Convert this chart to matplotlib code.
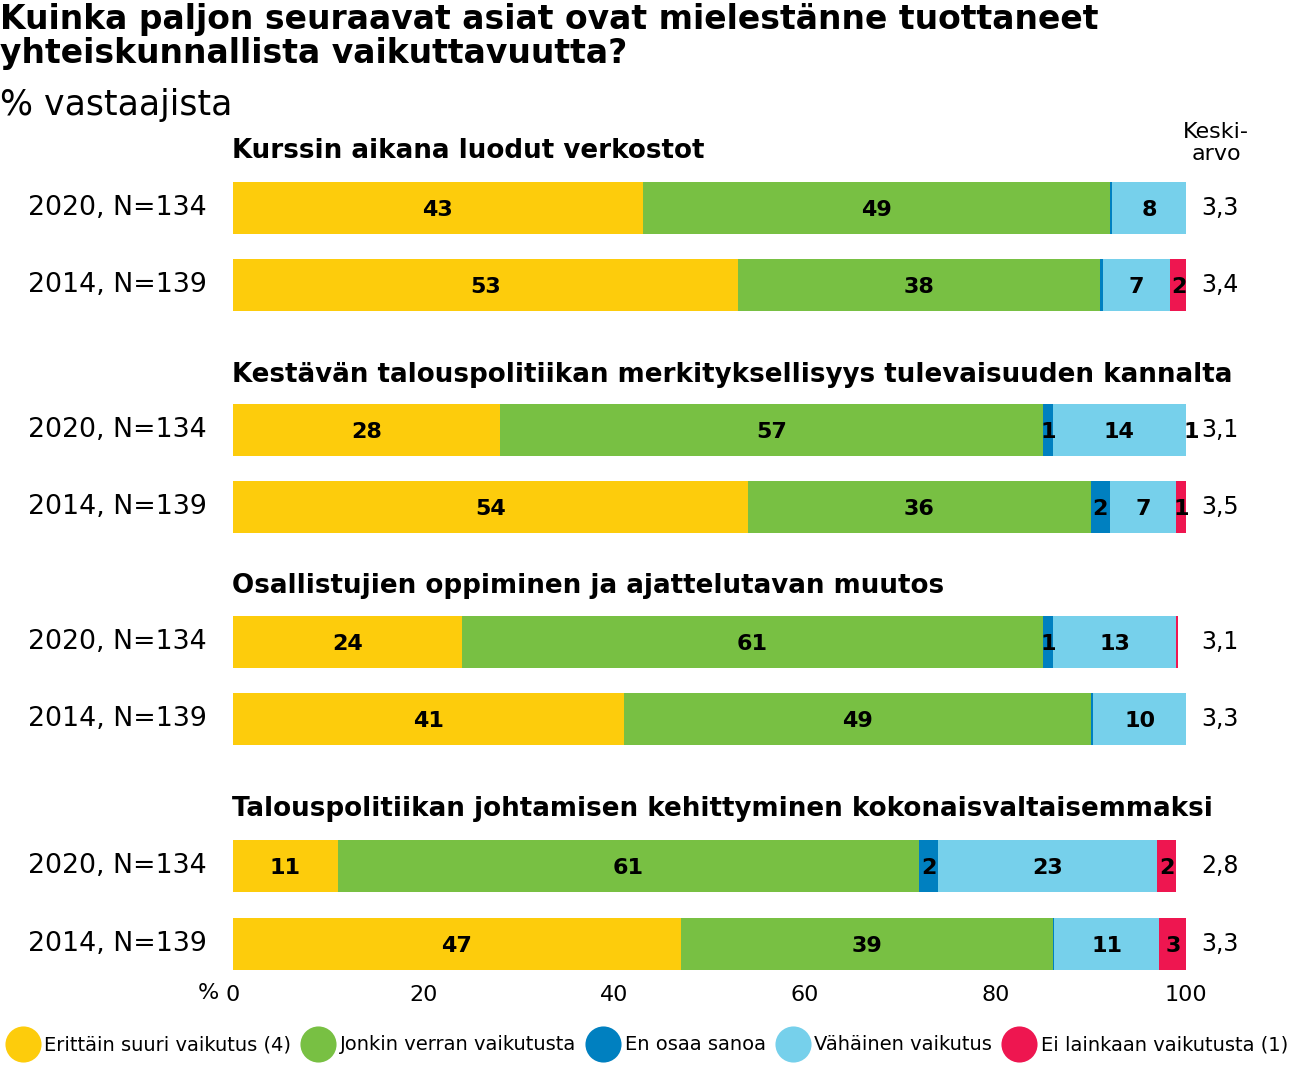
import matplotlib
matplotlib.use("Agg")
import matplotlib.pyplot as plt
from matplotlib.lines import Line2D

W, H = 1301, 1065

# --- data ---
groups = [
    "Kurssin aikana luodut verkostot",
    "Kestävän talouspolitiikan merkityksellisyys tulevaisuuden kannalta",
    "Osallistujien oppiminen ja ajattelutavan muutos",
    "Talouspolitiikan johtamisen kehittyminen kokonaisvaltaisemmaksi",
]
rows = ["2020, N=134", "2014, N=139"]
categories = [
    "Erittäin suuri vaikutus (4)",
    "Jonkin verran vaikutusta",
    "En osaa sanoa",
    "Vähäinen vaikutus",
    "Ei lainkaan vaikutusta (1)",
]
# one list per bar (2020, 2014 for each group), order = categories
values = [
    [43, 49, 0.2, 8, 0.2],
    [53, 38, 0.3, 7, 2],
    [28, 57, 1, 14, 1],
    [54, 36, 2, 7, 1],
    [24, 61, 1, 13, 0.2],
    [41, 49, 0.2, 10, 0.2],
    [11, 61, 2, 23, 2],
    [47, 39, 0.2, 11, 3],
]
means = ["3,3", "3,4", "3,1", "3,5", "3,1", "3,3", "2,8", "3,3"]
xticks = [0, 20, 40, 60, 80, 100]

colors = ["#FDCC0C", "#78C043", "#0080C0", "#76D0EB", "#EE1650"]

# --- layout (pixels) ---
bar_y = [208, 285, 430, 507, 642, 719, 866, 944]
title_y = [151, 375, 586, 809]
bar_h = 52
x0_px, x1_px = 233, 1186
ax_bottom = 982


def fx(px):
    return px / W


def fy(py):
    return 1 - py / H


fig = plt.figure(figsize=(W / 100, H / 100), dpi=100)
ax = fig.add_axes([fx(x0_px), fy(ax_bottom), (x1_px - x0_px) / W, ax_bottom / H])
ax.set_xlim(0, 100)
ax.set_ylim(ax_bottom, 0)
for s in ax.spines.values():
    s.set_visible(False)
ax.set_yticks([])

for i, vals in enumerate(values):
    left = 0
    for v, c in zip(vals, colors):
        ax.barh(bar_y[i], v, left=left, height=bar_h, color=c, linewidth=0)
        if v >= 1:
            ax.text(left + v / 2, bar_y[i] + 2, f"{v:g}", ha="center", va="center",
                    fontsize=16, fontweight="bold", color="black")
        left += v
    fig.text(fx(207), fy(bar_y[i]), rows[i % 2], ha="right", va="center", fontsize=19.3)
    fig.text(fx(1201), fy(bar_y[i]), means[i], ha="left", va="center", fontsize=17)

for g, t in zip(groups, title_y):
    fig.text(fx(232), fy(t), g, ha="left", va="center", fontsize=18.8, fontweight="bold")

ax.set_xticks(xticks)
ax.set_xticklabels([str(t) for t in xticks], fontsize=16)
ax.tick_params(axis="x", length=0, pad=2)
fig.text(fx(208), fy(993), "%", ha="center", va="center", fontsize=16)

fig.text(0, fy(19), "Kuinka paljon seuraavat asiat ovat mielestänne tuottaneet",
         ha="left", va="center", fontsize=23.8, fontweight="bold")
fig.text(0, fy(53), "yhteiskunnallista vaikuttavuutta?",
         ha="left", va="center", fontsize=23.8, fontweight="bold")
fig.text(0, fy(105), "% vastaajista", ha="left", va="center", fontsize=25)
fig.text(fx(1216), fy(143), "Keski-\narvo", ha="center", va="center", fontsize=16,
         linespacing=1.15)

handles = [Line2D([], [], marker="o", linestyle="", markersize=26,
                  markerfacecolor=c, markeredgewidth=0) for c in colors]
fig.legend(handles, categories, loc="center left", bbox_to_anchor=(0.007, fy(1045)),
           ncol=5, frameon=False, fontsize=14, handletextpad=0.4,
           columnspacing=0.7, handlelength=1.4, borderaxespad=0, borderpad=0)

fig.savefig("out.png", dpi=100)
